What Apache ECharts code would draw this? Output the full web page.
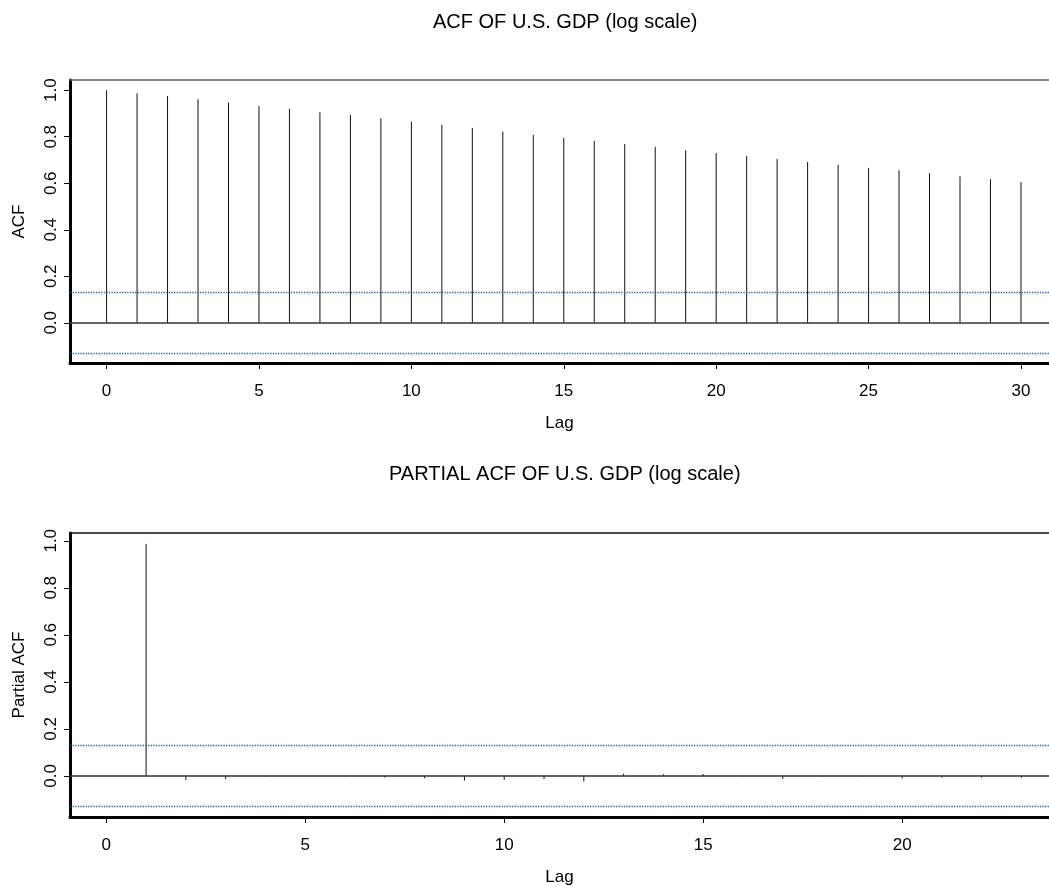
<!DOCTYPE html>
<html>
<head>
<meta charset="utf-8">
<title>ACF / PACF of U.S. GDP</title>
<script src="https://cdn.jsdelivr.net/npm/echarts@6/dist/echarts.min.js"></script>
<style>
  html, body { margin: 0; padding: 0; background: #fff; }
  #chart { width: 1049px; height: 886px; }
</style>
</head>
<body>
<div id="chart"></div>
<script>
// ACF, lags 0..30
var acfLags = [0, 1, 2, 3, 4, 5, 6, 7, 8, 9, 10, 11, 12, 13, 14, 15, 16, 17, 18, 19, 20, 21, 22, 23, 24, 25, 26, 27, 28, 29, 30];
var acfValues = [1.0, 0.987, 0.975, 0.961, 0.947, 0.932, 0.920, 0.905, 0.894, 0.879, 0.865, 0.851, 0.838, 0.822, 0.808, 0.795,
  0.782, 0.769, 0.756, 0.742, 0.730, 0.717, 0.704, 0.691, 0.679, 0.666, 0.656, 0.643, 0.630, 0.617, 0.605];

// partial ACF, lags 1..23
var pacfLags = [1, 2, 3, 4, 5, 6, 7, 8, 9, 10, 11, 12, 13, 14, 15, 16, 17, 18, 19, 20, 21, 22, 23];
var pacfValues = [0.987, -0.018, -0.013, -0.004, -0.002, -0.003, -0.007, -0.010, -0.020, -0.017, -0.013, -0.024,
  0.009, 0.007, 0.008, -0.003, -0.013, -0.003, -0.004, -0.011, -0.008, -0.008, -0.008];

// approx 95% bounds
var confBound = 0.13;

var yTicks = [0, 0.2, 0.4, 0.6, 0.8, 1.0];
var acfXTicks = [0, 5, 10, 15, 20, 25, 30];
var pacfXTicks = [0, 5, 10, 15, 20];

var FONT = "'Liberation Sans', Arial, sans-serif";

function spikes(lags, vals) {
  return lags.map(function (l, i) { return [l, vals[i]]; });
}

function spikeSeries(idx, lags, vals) {
  return {
    type: "custom",
    xAxisIndex: idx * 2,
    yAxisIndex: idx,
    silent: true,
    data: spikes(lags, vals),
    renderItem: function (params, api) {
      var p0 = api.coord([api.value(0), 0]);
      var p1 = api.coord([api.value(0), api.value(1)]);
      return {
        type: "line",
        shape: { x1: p0[0], y1: p0[1], x2: p1[0], y2: p1[1] },
        style: { stroke: "#111", lineWidth: 1 }
      };
    }
  };
}

function refLines(idx) {
  // zero line and dotted bounds
  return {
    type: "line",
    xAxisIndex: idx * 2,
    yAxisIndex: idx,
    data: [],
    silent: true,
    markLine: {
      silent: true,
      symbol: "none",
      label: { show: false },
      data: [
        { yAxis: 0, lineStyle: { type: "solid", color: "#333", width: 1.5 } },
        { yAxis: confBound, lineStyle: { type: "dotted", color: "#1f5fa6", width: 1.3 } },
        { yAxis: -confBound, lineStyle: { type: "dotted", color: "#1f5fa6", width: 1.3 } }
      ]
    }
  };
}

function bottomAxis(grid, min, max, ticks) {
  return {
    type: "value",
    gridIndex: grid,
    position: "bottom",
    min: min,
    max: max,
    name: "Lag",
    nameLocation: "middle",
    nameGap: 52,
    nameTextStyle: { color: "#000", fontSize: 17, fontFamily: FONT },
    axisLine: { onZero: false, lineStyle: { color: "#000", width: 3 } },
    axisTick: { customValues: ticks, length: 6, lineStyle: { color: "#000", width: 1 } },
    axisLabel: { customValues: ticks, margin: 20, color: "#000", fontSize: 17, fontFamily: FONT },
    splitLine: { show: false }
  };
}

function topBorder(grid, min, max, color) {
  return {
    type: "value",
    gridIndex: grid,
    position: "top",
    min: min,
    max: max,
    axisLine: { onZero: false, lineStyle: { color: color, width: 1.5 } },
    axisTick: { show: false },
    axisLabel: { show: false },
    splitLine: { show: false }
  };
}

function leftAxis(grid, min, max, label) {
  return {
    type: "value",
    gridIndex: grid,
    min: min,
    max: max,
    name: label,
    nameLocation: "middle",
    nameGap: 42,
    nameTextStyle: { color: "#000", fontSize: 17, fontFamily: FONT },
    axisLine: { onZero: false, lineStyle: { color: "#000", width: 3 } },
    axisTick: { customValues: yTicks, length: 6, lineStyle: { color: "#000", width: 1 } },
    axisLabel: {
      customValues: yTicks,
      rotate: 90,
      margin: 10,
      color: "#000",
      fontSize: 17,
      fontFamily: FONT,
      formatter: function (v) { return v.toFixed(1); }
    },
    splitLine: { show: false }
  };
}

var option = {
  animation: false,
  backgroundColor: "#fff",
  title: [
    {
      text: "ACF OF U.S. GDP (log scale)",
      left: 428,
      top: 7,
      textStyle: { color: "#000", fontSize: 20, fontWeight: "normal", fontFamily: FONT }
    },
    {
      text: "PARTIAL ACF OF U.S. GDP (log scale)",
      left: 384,
      top: 459,
      textStyle: { color: "#000", fontSize: 20, fontWeight: "normal", fontFamily: FONT }
    }
  ],
  grid: [
    { left: 70, right: 0, top: 80, height: 283, outerBoundsMode: "none" },
    { left: 70, right: 0, top: 533, height: 284, outerBoundsMode: "none" }
  ],
  xAxis: [
    bottomAxis(0, -1.2, 30.92, acfXTicks),
    topBorder(0, -1.2, 30.92, "#666"),
    bottomAxis(1, -0.912, 23.69, pacfXTicks),
    topBorder(1, -0.912, 23.69, "#111")
  ],
  yAxis: [
    leftAxis(0, -0.173, 1.044, "ACF"),
    leftAxis(1, -0.175, 1.033, "Partial ACF")
  ],
  series: [
    refLines(0),
    spikeSeries(0, acfLags, acfValues),
    refLines(1),
    spikeSeries(1, pacfLags, pacfValues)
  ]
};

var myChart = echarts.init(document.getElementById("chart"));
myChart.setOption(option);
</script>
</body>
</html>
